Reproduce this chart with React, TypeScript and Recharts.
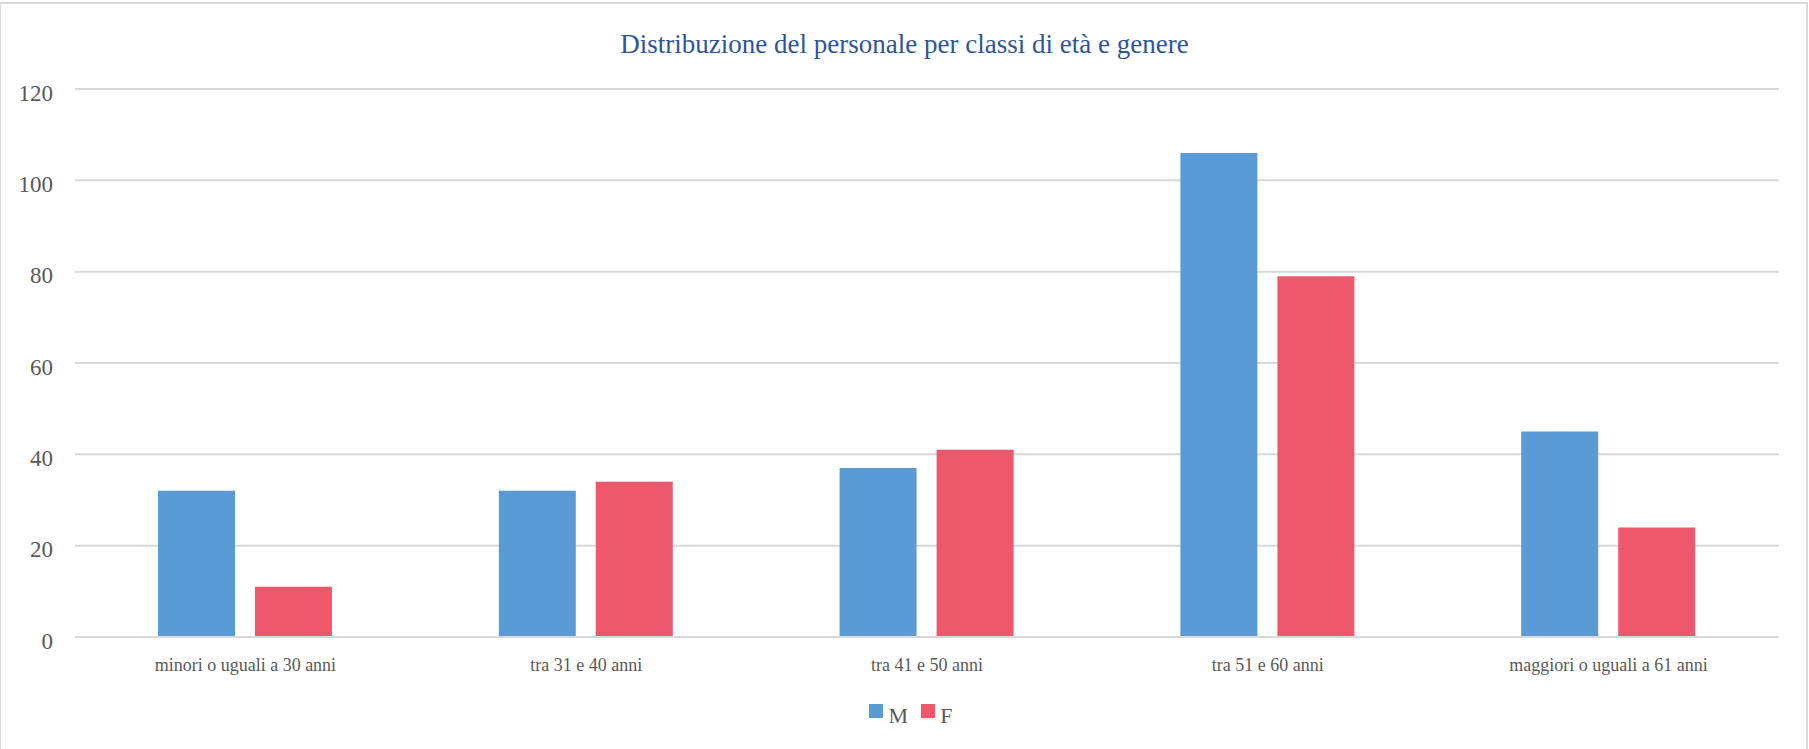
import React from "react";
import { BarChart, Bar, XAxis, YAxis, CartesianGrid, Legend } from "recharts";

const categories = [
  "minori o uguali a 30 anni",
  "tra 31 e 40 anni",
  "tra 41 e 50 anni",
  "tra 51 e 60 anni",
  "maggiori o uguali a 61 anni",
];
const maleValues = [32, 32, 37, 106, 45];
const femaleValues = [11, 34, 41, 79, 24];
const yTicks = [0, 20, 40, 60, 80, 100, 120];
const seriesOrder = ["M", "F"];
const titleText = "Distribuzione del personale per classi di età e genere";

const data = categories.map((c, i) => ({ cat: c, M: maleValues[i], F: femaleValues[i] }));

const FONT = '"Liberation Serif", "Times New Roman", serif';
const TEXT = "#595959";
const BLUE = "#5B9BD5";
const RED = "#EE586C";
const GRID = "#D9D9D9";

const XTick = (props: any) => {
  const { x, y, payload } = props;
  return (
    <text x={x} y={y} dy={34} textAnchor="middle" fill={TEXT} fontSize={18} fontFamily={FONT}>
      {payload.value}
    </text>
  );
};

const YTick = (props: any) => {
  const { x, y, payload } = props;
  return (
    <text x={x} y={y} dy={11.5} textAnchor="end" fill={TEXT} fontSize={23} fontFamily={FONT}>
      {payload.value}
    </text>
  );
};

const LegendContent = (props: any) => {
  const payload = [...(props.payload || [])].sort(
    (a: any, b: any) => seriesOrder.indexOf(a.value) - seriesOrder.indexOf(b.value)
  );
  return (
    <div
      style={{
        height: 40,
        width: 1809,
        display: "flex",
        justifyContent: "center",
        alignItems: "flex-start",
        paddingTop: 17,
        paddingLeft: 12,
        boxSizing: "border-box",
      }}
    >
      {payload.map((p: any, i: number) => (
        <div key={i} style={{ display: "flex", alignItems: "flex-start", marginLeft: i === 0 ? 0 : 13 }}>
          <div style={{ width: 14, height: 14, background: p.color, marginRight: i === 0 ? 6 : 5 }} />
          <span
            style={{
              fontFamily: FONT,
              fontSize: 22,
              lineHeight: "22px",
              color: TEXT,
              marginTop: 0.6,
            }}
          >
            {p.value}
          </span>
        </div>
      ))}
    </div>
  );
};

export default function App() {
  return (
    <div style={{ position: "absolute", left: 0, top: 0, width: 1809, height: 749, background: "#fff" }}>
      <div
        style={{
          position: "absolute",
          left: 0,
          top: 2,
          width: 1808,
          height: 747,
          borderTop: `2px solid ${GRID}`,
          borderLeft: `1.5px solid ${GRID}`,
          borderRight: `2px solid ${GRID}`,
          boxSizing: "border-box",
          pointerEvents: "none",
        }}
      />
      <div
        style={{
          position: "absolute",
          left: 0,
          top: 30.7,
          width: 1809,
          textAlign: "center",
          fontFamily: FONT,
          fontSize: 27,
          lineHeight: "27px",
          color: "#2E5597",
          whiteSpace: "nowrap",
        }}
      >
        {titleText}
      </div>
      <div style={{ position: "absolute", left: 0, top: 0 }}>
        <BarChart
          width={1809}
          height={749}
          data={data}
          margin={{ top: 89, right: 30, bottom: 22, left: 0 }}
          barSize={77}
          barGap={20}
        >
          <CartesianGrid vertical={false} stroke={GRID} strokeWidth={2} />
          <XAxis
            dataKey="cat"
            height={50}
            tickLine={false}
            tickSize={0}
            tickMargin={0}
            axisLine={{ stroke: GRID, strokeWidth: 2 }}
            tick={<XTick />}
            interval={0}
          />
          <YAxis
            width={75}
            domain={[0, 120]}
            ticks={yTicks}
            axisLine={false}
            tickLine={false}
            tickSize={0}
            tickMargin={22}
            tick={<YTick />}
          />
          <Legend
            verticalAlign="bottom"
            align="center"
            wrapperStyle={{ left: 0, width: 1809 }}
            content={<LegendContent />}
          />
          <Bar dataKey="M" name="M" fill={BLUE} isAnimationActive={false} />
          <Bar dataKey="F" name="F" fill={RED} isAnimationActive={false} />
        </BarChart>
      </div>
    </div>
  );
}
